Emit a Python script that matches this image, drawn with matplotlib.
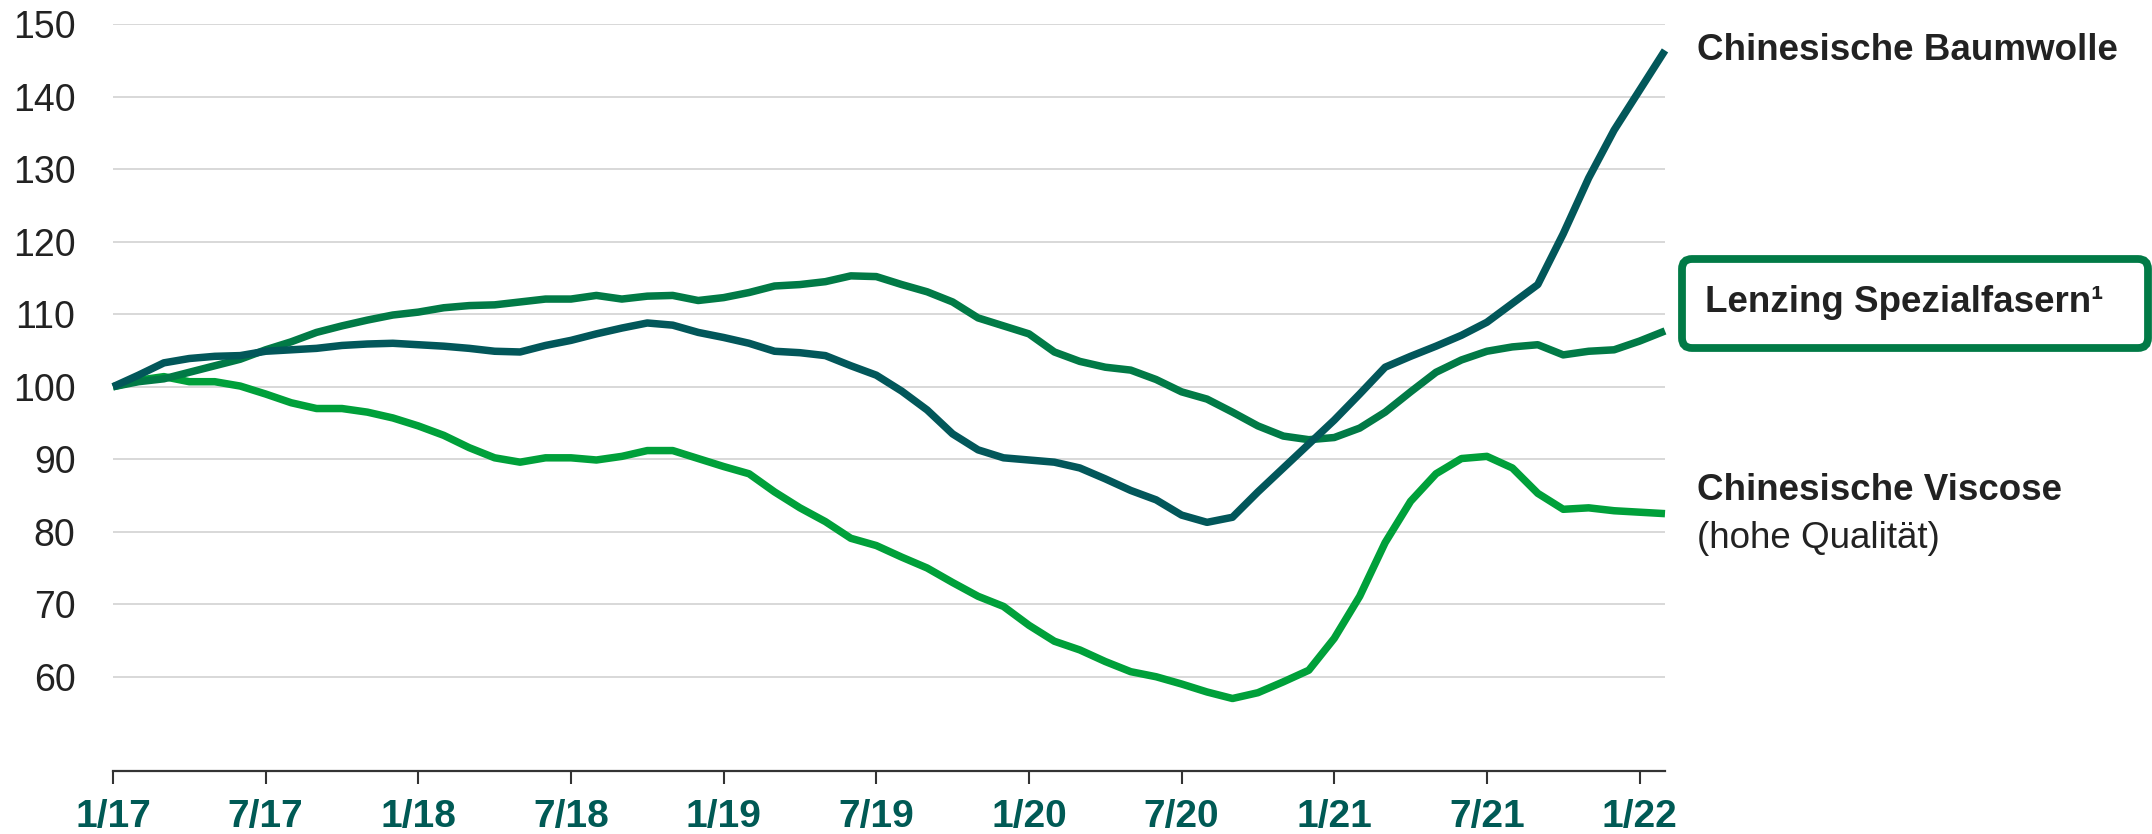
import matplotlib.pyplot as plt
from matplotlib.patches import FancyBboxPatch

plt.rcParams['font.family'] = ['Liberation Sans', 'DejaVu Sans']

# monthly index values, 1/17 .. 2/22 (1/17 = 100)
months = list(range(62))
tick_pos = [0, 6, 12, 18, 24, 30, 36, 42, 48, 54, 60]
tick_labels = ['1/17', '7/17', '1/18', '7/18', '1/19', '7/19',
               '1/20', '7/20', '1/21', '7/21', '1/22']
y_ticks = [60, 70, 80, 90, 100, 110, 120, 130, 140, 150]

baumwolle = [100.0, 101.6, 103.3, 103.9, 104.2, 104.3, 104.9, 105.1, 105.3, 105.7, 105.9, 106.0,
             105.8, 105.6, 105.3, 104.9, 104.8, 105.7, 106.4, 107.3, 108.1, 108.8, 108.5, 107.5,
             106.8, 106.0, 104.9, 104.7, 104.3, 102.9, 101.6, 99.4, 96.8, 93.5, 91.3, 90.2,
             89.9, 89.6, 88.8, 87.3, 85.7, 84.4, 82.3, 81.3, 82.0, 85.5, 88.8, 92.1,
             95.4, 99.0, 102.7, 104.2, 105.6, 107.1, 108.9, 111.5, 114.1, 121.1, 128.8, 135.4,
             140.9, 146.4]
lenzing = [100.0, 100.7, 101.1, 102.0, 102.9, 103.8, 105.1, 106.2, 107.5, 108.4, 109.2, 109.9,
           110.3, 110.9, 111.2, 111.3, 111.7, 112.1, 112.1, 112.6, 112.1, 112.5, 112.6, 111.9,
           112.3, 113.0, 113.9, 114.1, 114.5, 115.3, 115.2, 114.1, 113.1, 111.7, 109.5, 108.4,
           107.3, 104.8, 103.5, 102.7, 102.3, 101.0, 99.3, 98.3, 96.5, 94.6, 93.2, 92.7,
           93.0, 94.3, 96.5, 99.3, 102.0, 103.7, 104.9, 105.5, 105.8, 104.4, 104.9, 105.1,
           106.3, 107.7]
viscose = [100.0, 100.9, 101.4, 100.7, 100.7, 100.1, 99.0, 97.8, 97.0, 97.0, 96.5, 95.7,
           94.6, 93.3, 91.6, 90.2, 89.6, 90.2, 90.2, 89.9, 90.4, 91.2, 91.2, 90.1,
           89.0, 88.0, 85.5, 83.3, 81.4, 79.1, 78.1, 76.5, 75.0, 73.0, 71.1, 69.7,
           67.1, 64.9, 63.7, 62.1, 60.7, 60.0, 59.0, 57.9, 57.0, 57.8, 59.3, 60.9,
           65.3, 71.1, 78.5, 84.2, 88.0, 90.1, 90.4, 88.8, 85.3, 83.1, 83.3, 82.9,
           82.7, 82.5]

c_baum = '#02575A'
c_lenz = '#017A46'
c_visc = '#00A03A'
c_tick = '#005A55'
c_text = '#222222'

fig = plt.figure(figsize=(21.52, 8.34), dpi=100)
ax = fig.add_axes([113 / 2152, 1 - 771 / 834, (1665 - 113) / 2152, (771 - 24.3) / 834])

lw = 5.4
ax.plot(months, viscose, color=c_visc, lw=lw, solid_capstyle='butt', clip_on=False, zorder=3)
ax.plot(months, lenzing, color=c_lenz, lw=lw, solid_capstyle='butt', clip_on=False, zorder=4)
ax.plot(months, baumwolle, color=c_baum, lw=lw, solid_capstyle='butt', clip_on=False, zorder=5)

ax.set_xlim(0, 61)
ax.set_ylim(47, 150)
ax.set_yticks(y_ticks)
ax.set_yticklabels([str(v) for v in y_ticks], fontsize=27, color=c_text)
ax.tick_params(axis='y', length=0, pad=27)
ax.set_xticks(tick_pos)
ax.set_xticklabels(tick_labels, fontsize=28, fontweight='bold', color=c_tick)
ax.tick_params(axis='x', length=9, width=1.5, color='#333333', pad=11)
ax.grid(axis='y', color='#d6d6d6', lw=1.3)
ax.set_axisbelow(True)
for s in ['top', 'right', 'left']:
    ax.spines[s].set_visible(False)
ax.spines['bottom'].set_color('#333333')
ax.spines['bottom'].set_linewidth(1.6)

# labels on the right
fig.text(1697 / 2152, 1 - 50 / 834, 'Chinesische Baumwolle', fontsize=26.5,
         fontweight='bold', color=c_text, va='center', ha='left')
fig.text(1697 / 2152, 1 - 491 / 834, 'Chinesische Viscose', fontsize=26.5,
         fontweight='bold', color=c_text, va='center', ha='left')
fig.text(1697 / 2152, 1 - 539 / 834, '(hohe Qualität)', fontsize=26.5,
         color=c_text, va='center', ha='left')

box = FancyBboxPatch((16.82, 4.86), 4.66, 0.89, boxstyle='round,pad=0,rounding_size=0.1',
                     transform=fig.dpi_scale_trans, fc='white', ec=c_lenz, lw=5.6)
fig.patches.append(box)
fig.text(1705 / 2152, 1 - 303 / 834, 'Lenzing Spezialfasern¹', fontsize=26.5,
         fontweight='bold', color=c_text, va='center', ha='left')

fig.savefig('out.png', dpi=100)
